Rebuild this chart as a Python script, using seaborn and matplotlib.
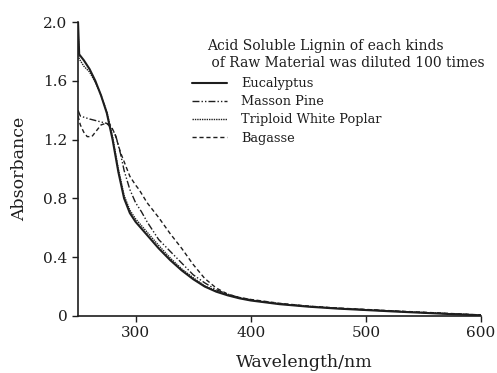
import numpy as np
import pandas as pd
import matplotlib
matplotlib.use("Agg")
import matplotlib.pyplot as plt
import seaborn as sns

# wavelengths (nm) and absorbance
wl_euc = [250, 251, 255, 260, 265, 270, 275, 280, 285, 290, 295, 300, 310, 320, 330,
          340, 350, 360, 370, 380, 390, 400, 425, 450, 475, 500, 525, 550, 575, 600]
abs_euc = [2.00, 1.78, 1.74, 1.68, 1.60, 1.50, 1.38, 1.20, 0.98, 0.80, 0.70, 0.64, 0.55, 0.46, 0.38,
           0.31, 0.25, 0.20, 0.165, 0.14, 0.12, 0.105, 0.08, 0.063, 0.05, 0.04, 0.03, 0.021, 0.012, 0.004]

wl_pine = [250, 252, 256, 260, 265, 270, 275, 280, 283, 287, 290, 295, 300, 305, 310, 320, 330,
           340, 350, 360, 370, 380, 390, 400, 425, 450, 475, 500, 525, 550, 575, 600]
abs_pine = [1.40, 1.36, 1.35, 1.34, 1.33, 1.32, 1.31, 1.27, 1.22, 1.10, 0.99, 0.86, 0.77, 0.71, 0.64,
            0.52, 0.44, 0.36, 0.28, 0.225, 0.178, 0.148, 0.125, 0.11, 0.083, 0.065, 0.052, 0.042, 0.032,
            0.023, 0.014, 0.006]

wl_poplar = [250, 251, 255, 260, 265, 270, 275, 280, 285, 290, 295, 300, 310, 320, 330,
             340, 350, 360, 370, 380, 390, 400, 425, 450, 475, 500, 525, 550, 575, 600]
abs_poplar = [1.95, 1.75, 1.70, 1.66, 1.59, 1.50, 1.39, 1.22, 1.00, 0.82, 0.72, 0.66, 0.57, 0.48, 0.395,
              0.32, 0.26, 0.205, 0.17, 0.143, 0.123, 0.108, 0.082, 0.065, 0.052, 0.042, 0.032,
              0.023, 0.014, 0.006]

wl_bag = [250, 252, 255, 258, 262, 266, 270, 274, 278, 282, 287, 290, 295, 300, 303, 310, 320, 330,
          340, 350, 360, 370, 380, 390, 400, 425, 450, 475, 500, 525, 550, 575, 600]
abs_bag = [1.36, 1.30, 1.25, 1.22, 1.22, 1.26, 1.30, 1.31, 1.30, 1.24, 1.11, 1.05, 0.95, 0.89, 0.86,
           0.77, 0.67, 0.56, 0.46, 0.35, 0.255, 0.19, 0.148, 0.126, 0.112, 0.086, 0.067, 0.054, 0.044,
           0.034, 0.025, 0.016, 0.007]

labels = ["Eucalyptus", "Masson Pine", "Triploid White Poplar", "Bagasse"]
legend_title = "Acid Soluble Lignin of each kinds\n of Raw Material was diluted 100 times"

sns.set_style("ticks")
plt.rcParams["font.family"] = ["DejaVu Serif"]

fig = plt.figure(figsize=(4.97, 3.73), dpi=100)
ax = fig.add_axes([0.157, 0.153, 0.811, 0.788])

series = [(wl_euc, abs_euc, "-", 1.5),
          (wl_pine, abs_pine, (0, (5, 1.5, 1, 1.5, 1, 1.5)), 1.0),
          (wl_poplar, abs_poplar, (0, (1, 0.7)), 1.0),
          (wl_bag, abs_bag, (0, (3, 2)), 1.0)]
ink = "#1e1e1e"
for (x, y, ls, lw), lab in zip(series, labels):
  d = pd.DataFrame({"wl": x, "abs": y})
  sns.lineplot(data=d, x="wl", y="abs", ax=ax, color=ink, linestyle=ls,
               linewidth=lw, label=lab, sort=False)

ax.set_xlim(250, 600)
ax.set_ylim(0, 2.0)
ax.set_xticks([300, 400, 500, 600])
ax.set_yticks([0, 0.4, 0.8, 1.2, 1.6, 2.0])
ax.set_yticklabels(["0", "0.4", "0.8", "1.2", "1.6", "2.0"])
ax.tick_params(direction="out", length=4, width=1, labelsize=11, colors=ink)
for s in ["top", "right"]:
  ax.spines[s].set_visible(False)
for s in ["left", "bottom"]:
  ax.spines[s].set_color(ink)
  ax.spines[s].set_linewidth(1.2)

ax.set_xlabel("Wavelength/nm", fontsize=12.5, color=ink)
ax.xaxis.set_label_coords(0.561, -0.13)
ax.set_ylabel("Absorbance", fontsize=12.5, color=ink, labelpad=11)

leg = ax.legend(loc="upper left", bbox_to_anchor=(0.27, 0.83), frameon=False,
                fontsize=9.3, handlelength=2.7, handletextpad=1.1,
                labelspacing=0.4, borderaxespad=0)
for t in leg.get_texts():
  t.set_color(ink)
fig.text(0.4165, 0.895, legend_title, fontsize=10, color=ink, ha="left", va="top",
         linespacing=1.3)

fig.savefig("out.png", dpi=100)
